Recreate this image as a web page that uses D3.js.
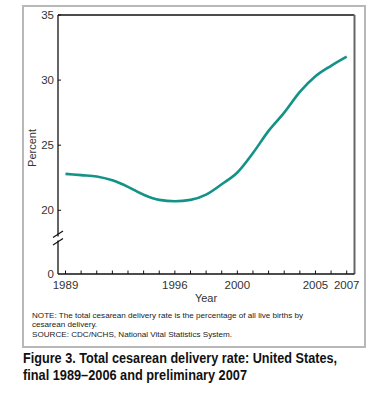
<!DOCTYPE html>
<html>
<head>
<meta charset="utf-8">
<script src="https://cdn.jsdelivr.net/npm/d3@7"></script>
<style>
  body { margin: 0; background: #fff; }
  svg { font-family: "Liberation Sans", Arial, sans-serif; }
</style>
</head>
<body>
<svg id="chart" width="386" height="400"></svg>
<script>
// Data
const years = [1989, 1990, 1991, 1992, 1993, 1994, 1995, 1996, 1997, 1998,
               1999, 2000, 2001, 2002, 2003, 2004, 2005, 2006, 2007];
const rates = [22.8, 22.7, 22.6, 22.3, 21.8, 21.2, 20.8, 20.7, 20.8, 21.2,
               22.0, 22.9, 24.4, 26.1, 27.5, 29.1, 30.3, 31.1, 31.8];
const yTicks = [20, 25, 30, 35];
const xLabels = [1989, 1996, 2000, 2005, 2007];

const svg = d3.select("#chart");

// outer box
svg.append("rect")
  .attr("x", 23).attr("y", 6)
  .attr("width", 342).attr("height", 341)
  .attr("fill", "none").attr("stroke", "#b8b8b8").attr("stroke-width", 2);

const plotL = 58, plotR = 354.5, plotT = 15, plotB = 274;

const x = d3.scaleLinear().domain([1989, 2007]).range([65.5, 346.7]);
const y = d3.scaleLinear().domain([20, 35]).range([210.3, plotT]);

// frame: top and right
svg.append("line").attr("x1", plotL).attr("x2", plotR).attr("y1", plotT).attr("y2", plotT)
  .attr("stroke", "#111").attr("stroke-width", 1.3);
svg.append("line").attr("x1", plotR).attr("x2", plotR).attr("y1", plotT).attr("y2", plotB)
  .attr("stroke", "#666").attr("stroke-width", 2);

// y axis with break
const yAxis = svg.append("g");
yAxis.append("line").attr("x1", plotL).attr("x2", plotL).attr("y1", plotT).attr("y2", 236.5)
  .attr("stroke", "#111").attr("stroke-width", 1.3);
yAxis.append("line").attr("x1", plotL).attr("x2", plotL).attr("y1", 240.5).attr("y2", plotB)
  .attr("stroke", "#111").attr("stroke-width", 1.3);
[[237.5, 231], [245, 238.5]].forEach(([y1, y2]) => {
  yAxis.append("line").attr("x1", plotL - 5).attr("x2", plotL + 5)
    .attr("y1", y1).attr("y2", y2)
    .attr("stroke", "#111").attr("stroke-width", 1.2);
});

yTicks.forEach(t => {
  yAxis.append("line").attr("x1", plotL).attr("x2", plotL + 3)
    .attr("y1", y(t)).attr("y2", y(t)).attr("stroke", "#111");
  yAxis.append("text").attr("x", plotL - 4).attr("y", y(t) + 4)
    .attr("text-anchor", "end").attr("font-size", 11.5).attr("fill", "#333")
    .text(t);
});
yAxis.append("text").attr("x", plotL - 4).attr("y", plotB + 4)
  .attr("text-anchor", "end").attr("font-size", 11.5).attr("fill", "#333").text(0);

svg.append("text")
  .attr("transform", `translate(36,148) rotate(-90)`)
  .attr("text-anchor", "middle").attr("font-size", 11).attr("fill", "#333")
  .text("Percent");

// x axis
svg.append("line").attr("x1", plotL).attr("x2", plotR).attr("y1", plotB).attr("y2", plotB)
  .attr("stroke", "#111").attr("stroke-width", 1.3);
svg.append("g").selectAll("line").data(years).join("line")
  .attr("x1", d => x(d)).attr("x2", d => x(d))
  .attr("y1", plotB).attr("y2", plotB - 3.5)
  .attr("stroke", "#111");
svg.append("g").selectAll("text").data(xLabels).join("text")
  .attr("x", d => x(d)).attr("y", plotB + 15)
  .attr("text-anchor", "middle").attr("font-size", 11.5).attr("fill", "#333")
  .text(d => d);
svg.append("text").attr("x", 206).attr("y", 302)
  .attr("text-anchor", "middle").attr("font-size", 11).attr("fill", "#333")
  .text("Year");

// the line
const line = d3.line()
  .x((d, i) => x(years[i]))
  .y(d => y(d))
  .curve(d3.curveMonotoneX);
svg.append("path").datum(rates)
  .attr("d", line)
  .attr("fill", "none").attr("stroke", "#139287").attr("stroke-width", 2.6);

// notes
const notes = [
  "NOTE: The total cesarean delivery rate is the percentage of all live births by",
  "cesarean delivery.",
  "SOURCE: CDC/NCHS, National Vital Statistics System."
];
svg.append("g").selectAll("text").data(notes).join("text")
  .attr("x", 32).attr("y", (d, i) => 318 + i * 9.3)
  .attr("font-size", 8.1).attr("fill", "#222")
  .text(d => d);

// caption (condensed bold face squeezed to the printed width)
const caption = [
  "Figure 3. Total cesarean delivery rate: United States,",
  "final 1989\u20132006 and preliminary 2007"
];
const capWidths = [314, 224];
svg.append("g").selectAll("text").data(caption).join("text")
  .attr("x", 23).attr("y", (d, i) => 363 + i * 17)
  .attr("font-weight", "bold").attr("font-size", 14.5).attr("fill", "#111")
  .attr("textLength", (d, i) => capWidths[i])
  .attr("lengthAdjust", "spacingAndGlyphs")
  .text(d => d);
</script>
</body>
</html>
